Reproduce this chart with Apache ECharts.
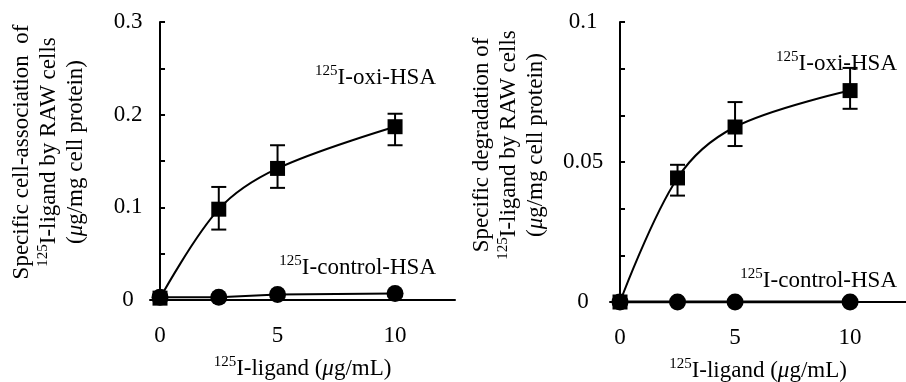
<!DOCTYPE html>
<html><head><meta charset="utf-8">
<script src="https://cdn.jsdelivr.net/npm/echarts@6/dist/echarts.min.js"></script>
<style>html,body{margin:0;padding:0;background:#fff}#c{width:906px;height:382px}</style>
</head><body><div id="c"></div>
<script>
// ---- data ----
const ligandConc = [0, 2.5, 5, 10];
const xTickValues = [0, 5, 10];

const assocOxi      = [0.002, 0.098, 0.142, 0.187];
const assocOxiLow   = [0.002, 0.076, 0.121, 0.167];
const assocOxiHigh  = [0.002, 0.122, 0.167, 0.201];
const assocControl  = [0.003, 0.003, 0.006, 0.007];

const degOxi        = [0, 0.0443, 0.0625, 0.0755];
const degOxiLow     = [0, 0.038, 0.0557, 0.069];
const degOxiHigh    = [0, 0.049, 0.0714, 0.0836];
const degControl    = [0, 0, 0, 0];

const assocYMax = 0.3, assocYInterval = 0.1, assocMinorSplit = 2;
const degYMax = 0.1, degYInterval = 0.05, degMinorSplit = 3;

// ---- styling ----
const FONT = 'Liberation Serif';
const rich = {
  t: {fontFamily: FONT, fontSize: 23, color: '#000', lineHeight: 27},
  s: {fontFamily: FONT, fontSize: 15, color: '#000', lineHeight: 18, verticalAlign: 'top'},
  i: {fontFamily: FONT, fontSize: 23, color: '#000', lineHeight: 27, fontStyle: 'italic'}
};
const BLACK = '#000';

function xAxisCfg(gridIndex, min, max) {
  return {
    type: 'value', gridIndex, min, max,
    axisLine: {show: true, onZero: false, lineStyle: {color: BLACK, width: 2}},
    axisTick: {show: false},
    splitLine: {show: false},
    axisLabel: {customValues: xTickValues, fontFamily: FONT, fontSize: 23, color: BLACK, margin: 24},
    name: '{s|125}{t|I-ligand (}{i|μ}{t|g/mL)}',
    nameLocation: 'middle', nameGap: 55,
    nameTextStyle: {rich}
  };
}
function yAxisCfg(gridIndex, max, interval, minorSplit, margin) {
  return {
    type: 'value', gridIndex, min: 0, max, interval,
    axisLine: {show: true, onZero: true, lineStyle: {color: BLACK, width: 2}},
    axisTick: {show: true, inside: true, length: 5, lineStyle: {color: BLACK, width: 2}},
    minorTick: {show: true, splitNumber: minorSplit, length: 5, lineStyle: {color: BLACK, width: 2}},
    splitLine: {show: false}, minorSplitLine: {show: false},
    axisLabel: {fontFamily: FONT, fontSize: 23, color: BLACK, align: 'center', margin}
  };
}
function lineSeries(idx, vals, symbol, size, z, smooth, width) {
  return {
    type: 'line', xAxisIndex: idx, yAxisIndex: idx,
    data: ligandConc.map((x, i) => [x, vals[i]]),
    symbol, symbolSize: size, smooth, z,
    lineStyle: {color: BLACK, width},
    itemStyle: {color: BLACK, borderWidth: 0},
    silent: true
  };
}
function errSeries(idx, low, high) {
  return {
    type: 'custom', xAxisIndex: idx, yAxisIndex: idx, z: 4, silent: true,
    data: ligandConc.map((x, i) => [x, low[i], high[i]]),
    encode: {x: 0, y: [1, 2]},
    renderItem(params, api) {
      const x = api.value(0), lo = api.value(1), hi = api.value(2);
      if (hi - lo < 1e-9) return null;
      const a = api.coord([x, lo]), b = api.coord([x, hi]);
      const w = 7.5, st = {stroke: BLACK, lineWidth: 2};
      return {type: 'group', children: [
        {type: 'line', shape: {x1: a[0], y1: a[1], x2: b[0], y2: b[1]}, style: st},
        {type: 'line', shape: {x1: a[0] - w, y1: a[1], x2: a[0] + w, y2: a[1]}, style: st},
        {type: 'line', shape: {x1: b[0] - w, y1: b[1], x2: b[0] + w, y2: b[1]}, style: st}
      ]};
    }
  };
}
function yName(x, y, lines) {
  return {
    type: 'text', x, y, rotation: Math.PI / 2, silent: true,
    style: {text: lines, x: 0, y: 0, align: 'center', verticalAlign: 'middle',
            textAlign: 'center', textVerticalAlign: 'middle', rich}
  };
}
function note(right, top, label) {
  return {type: 'text', right, top, silent: true,
    style: {text: '{s|125}{t|' + label + '}', rich}};
}

const chart = echarts.init(document.getElementById('c'), null, {renderer: 'canvas'});
chart.setOption({
  animation: false,
  backgroundColor: '#fff',
  grid: [
    {left: 150, top: 22, width: 305, height: 278, outerBoundsMode: 'none', containLabel: false},
    {left: 610, top: 22, right: 0, height: 280, outerBoundsMode: 'none', containLabel: false}
  ],
  xAxis: [xAxisCfg(0, -0.426, 12.55), xAxisCfg(1, -0.435, 12.43)],
  yAxis: [
    yAxisCfg(0, assocYMax, assocYInterval, assocMinorSplit, 22),
    yAxisCfg(1, degYMax, degYInterval, degMinorSplit, 27)
  ],
  series: [
    lineSeries(0, assocControl, 'circle', 17, 2, false, 2),
    lineSeries(0, assocOxi, 'rect', 15, 3, 0.35, 2),
    errSeries(0, assocOxiLow, assocOxiHigh),
    lineSeries(1, degControl, 'circle', 17, 2, false, 3),
    lineSeries(1, degOxi, 'rect', 15, 3, 0.35, 2),
    errSeries(1, degOxiLow, degOxiHigh)
  ],
  graphic: [
    yName(49, 152, '{t|Specific cell-association  of}\n{s|125}{t|I-ligand by RAW cells}\n{t|(}{i|μ}{t|g/mg cell protein)}'),
    yName(509, 145, '{t|Specific degradation of}\n{s|125}{t|I-ligand by RAW cells}\n{t|(}{i|μ}{t|g/mg cell protein)}'),
    note(470, 64, 'I-oxi-HSA'),
    note(470, 254, 'I-control-HSA'),
    note(9, 50, 'I-oxi-HSA'),
    note(9, 267, 'I-control-HSA')
  ]
});
</script></body></html>
